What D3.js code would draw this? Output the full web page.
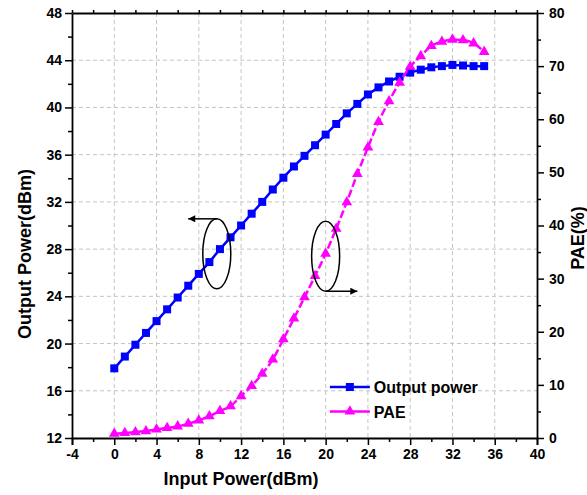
<!DOCTYPE html>
<html>
<head>
<meta charset="utf-8">
<script src="https://cdn.jsdelivr.net/npm/d3@7"></script>
<style>
  body { margin: 0; background: #fff; }
  svg { font-family: "Liberation Sans", Arial, sans-serif; font-weight: bold; }
</style>
</head>
<body>
<svg id="chart" width="587" height="495"></svg>
<script>
// values
var inputPower = [0, 1, 2, 3, 4, 5, 6, 7, 8, 9, 10, 11, 12, 13, 14, 15, 16, 17,
  18, 19, 20, 21, 22, 23, 24, 25, 26, 27, 28, 29, 30, 31, 32, 33, 34, 35]
var outputPower = [17.9, 18.9, 19.9, 20.9, 21.9, 22.9, 23.9, 24.9, 25.9, 26.9, 28.0, 29.0,
  30.0, 31.0, 32.0, 33.05, 34.05, 35.0, 35.9, 36.8, 37.7, 38.6, 39.5, 40.3, 41.1, 41.7,
  42.2, 42.6, 42.95, 43.2, 43.4, 43.5, 43.6, 43.55, 43.5, 43.5]
var pae = [0.8, 0.95, 1.1, 1.3, 1.6, 1.9, 2.2, 2.7, 3.3, 4.1, 5.1, 6.0, 7.9, 9.8, 12.1,
  14.8, 18.6, 22.5, 26.5, 30.5, 34.7, 39.4, 44.4, 49.7, 54.7, 59.5, 63.4, 66.9, 69.9,
  71.9, 73.8, 74.6, 75.0, 74.9, 74.3, 72.7]
var xTicks = [-4, 0, 4, 8, 12, 16, 20, 24, 28, 32, 36, 40]
var yLeftTicks = [12, 16, 20, 24, 28, 32, 36, 40, 44, 48]
var yRightTicks = [0, 10, 20, 30, 40, 50, 60, 70, 80]
var seriesNames = ['Output power', 'PAE']
// ellipse annotations in data coords (x, left-axis y)
var notes = [
  { cx: 9.7, cy: 27.6, arrowTo: 7.0, side: 'top' },
  { cx: 20.0, cy: 27.4, arrowTo: 23.0, side: 'bottom' }
]

var margin = {top: 13, right: 50, bottom: 57, left: 72}
var width = 587 - margin.left - margin.right
var height = 495 - margin.top - margin.bottom

var svg = d3.select('#chart')
var g = svg.append('g')
  .attr('transform', 'translate(' + margin.left + ',' + margin.top + ')')

var x = d3.scaleLinear().domain([-4, 40]).range([0, width])
var yL = d3.scaleLinear().domain([12, 48]).range([height, 0])
var yR = d3.scaleLinear().domain([0, 80]).range([height, 0])

// plain hyphen for negatives, like the original
var fmt = function (d) { return String(d) }

// grid
g.append('g').selectAll('line')
  .data(xTicks.filter(function (d) { return d > -4 && d < 40 }))
  .enter().append('line')
  .attr('x1', function (d) { return x(d) }).attr('x2', function (d) { return x(d) })
  .attr('y1', 0).attr('y2', height)
  .attr('stroke', '#c4c4c4').attr('stroke-dasharray', '4,3')
g.append('g').selectAll('line')
  .data(yLeftTicks.filter(function (d) { return d > 12 && d < 48 }))
  .enter().append('line')
  .attr('y1', function (d) { return yL(d) }).attr('y2', function (d) { return yL(d) })
  .attr('x1', 0).attr('x2', width)
  .attr('stroke', '#c4c4c4').attr('stroke-dasharray', '4,3')

// axes
function styleAxis (sel) {
  sel.selectAll('path').attr('stroke', '#000').attr('stroke-width', 1.8)
  sel.selectAll('line').attr('stroke', '#000').attr('stroke-width', 1.5)
  sel.selectAll('text').attr('font-size', 14).attr('font-weight', 'bold')
    .attr('font-family', '"Liberation Sans", Arial, sans-serif')
}
function minor (vals, step) {
  var out = []
  for (var i = 0; i < vals.length - 1; i++) out.push(vals[i] + step)
  return out
}

var xAxisG = g.append('g').attr('transform', 'translate(0,' + height + ')')
  .call(d3.axisBottom(x).tickValues(xTicks).tickFormat(fmt).tickSizeOuter(0).tickSize(7).tickPadding(4))
xAxisG.call(styleAxis)
g.append('g').attr('transform', 'translate(0,' + height + ')')
  .call(d3.axisBottom(x).tickValues(minor(xTicks, 2)).tickSize(4).tickFormat(''))
  .call(styleAxis).select('path').remove()

var topG = g.append('g')
  .call(d3.axisTop(x).tickValues(xTicks.concat(minor(xTicks, 2))).tickSize(3).tickSizeOuter(0).tickFormat(''))
topG.call(styleAxis)

var yLG = g.append('g')
  .call(d3.axisLeft(yL).tickValues(yLeftTicks).tickFormat(fmt).tickSize(7).tickSizeOuter(0).tickPadding(3))
yLG.call(styleAxis)
g.append('g')
  .call(d3.axisLeft(yL).tickValues(minor(yLeftTicks, 2)).tickSize(4).tickFormat(''))
  .call(styleAxis).select('path').remove()

var yRG = g.append('g').attr('transform', 'translate(' + width + ',0)')
  .call(d3.axisRight(yR).tickValues(yRightTicks).tickFormat(fmt).tickSize(7).tickSizeOuter(0).tickPadding(5))
yRG.call(styleAxis)
g.append('g').attr('transform', 'translate(' + width + ',0)')
  .call(d3.axisRight(yR).tickValues(minor(yRightTicks, 5)).tickSize(4).tickFormat(''))
  .call(styleAxis).select('path').remove()

// axis titles
svg.append('text')
  .attr('x', margin.left + x(12)).attr('y', 485)
  .attr('text-anchor', 'middle').attr('font-size', 18)
  .text('Input Power(dBm)')
svg.append('text')
  .attr('transform', 'translate(31,' + 254 + ') rotate(-90)')
  .attr('text-anchor', 'middle').attr('font-size', 18)
  .text('Output Power(dBm)')
svg.append('text')
  .attr('transform', 'translate(584,' + 238 + ') rotate(-90)')
  .attr('text-anchor', 'middle').attr('font-size', 18)
  .text('PAE(%)')

// series
var pts = inputPower.map(function (d, i) { return {x: d, p: outputPower[i], e: pae[i]} })

var lineP = d3.line().x(function (d) { return x(d.x) }).y(function (d) { return yL(d.p) })
var lineE = d3.line().x(function (d) { return x(d.x) }).y(function (d) { return yR(d.e) })
  .curve(d3.curveMonotoneX)

g.append('path').attr('d', lineP(pts)).attr('fill', 'none')
  .attr('stroke', '#0000ff').attr('stroke-width', 2.5)
g.selectAll('.sq').data(pts).enter().append('rect')
  .attr('x', function (d) { return x(d.x) - 4 })
  .attr('y', function (d) { return yL(d.p) - 4 })
  .attr('width', 8).attr('height', 8).attr('fill', '#0000ff')

g.append('path').attr('d', lineE(pts)).attr('fill', 'none')
  .attr('stroke', '#ff00ff').attr('stroke-width', 2.5).attr('stroke-dasharray', '8,3')
var tri = d3.symbol().type(d3.symbolTriangle).size(50)
g.selectAll('.tr').data(pts).enter().append('path')
  .attr('d', tri)
  .attr('transform', function (d) { return 'translate(' + x(d.x) + ',' + yR(d.e) + ')' })
  .attr('fill', '#ff00ff')

// annotations
svg.append('defs').append('marker')
  .attr('id', 'arr').attr('viewBox', '0 0 10 10').attr('refX', 10).attr('refY', 5)
  .attr('markerWidth', 9).attr('markerHeight', 7).attr('orient', 'auto')
  .attr('markerUnits', 'userSpaceOnUse')
  .append('path').attr('d', 'M0,0 L10,5 L0,10 z').attr('fill', '#000')

notes.forEach(function (n) {
  var cx = x(n.cx), cy = yL(n.cy)
  var rx = 14, ry = 35
  g.append('ellipse').attr('cx', cx).attr('cy', cy).attr('rx', rx).attr('ry', ry)
    .attr('fill', 'none').attr('stroke', '#000').attr('stroke-width', 1.5)
  var ay = n.side === 'top' ? cy - ry : cy + ry
  g.append('line').attr('x1', cx).attr('y1', ay).attr('x2', x(n.arrowTo)).attr('y2', ay)
    .attr('stroke', '#000').attr('stroke-width', 1.5).attr('marker-end', 'url(#arr)')
})

// legend
var legend = g.append('g').attr('transform', 'translate(' + (x(20.4)) + ',' + (yR(9.6)) + ')')
seriesNames.forEach(function (name, i) {
  var row = legend.append('g').attr('transform', 'translate(0,' + (i * 24.5) + ')')
  var col = i === 0 ? '#0000ff' : '#ff00ff'
  row.append('line').attr('x1', 0).attr('x2', 40).attr('y1', 0).attr('y2', 0)
    .attr('stroke', col).attr('stroke-width', 2.5)
  if (i === 0) {
    row.append('rect').attr('x', 16).attr('y', -4).attr('width', 8).attr('height', 8).attr('fill', col)
  } else {
    row.append('path').attr('d', tri).attr('transform', 'translate(20,0)').attr('fill', col)
  }
  row.append('text').attr('x', 44).attr('y', 6).attr('font-size', 16).text(name)
})
</script>
</body>
</html>
